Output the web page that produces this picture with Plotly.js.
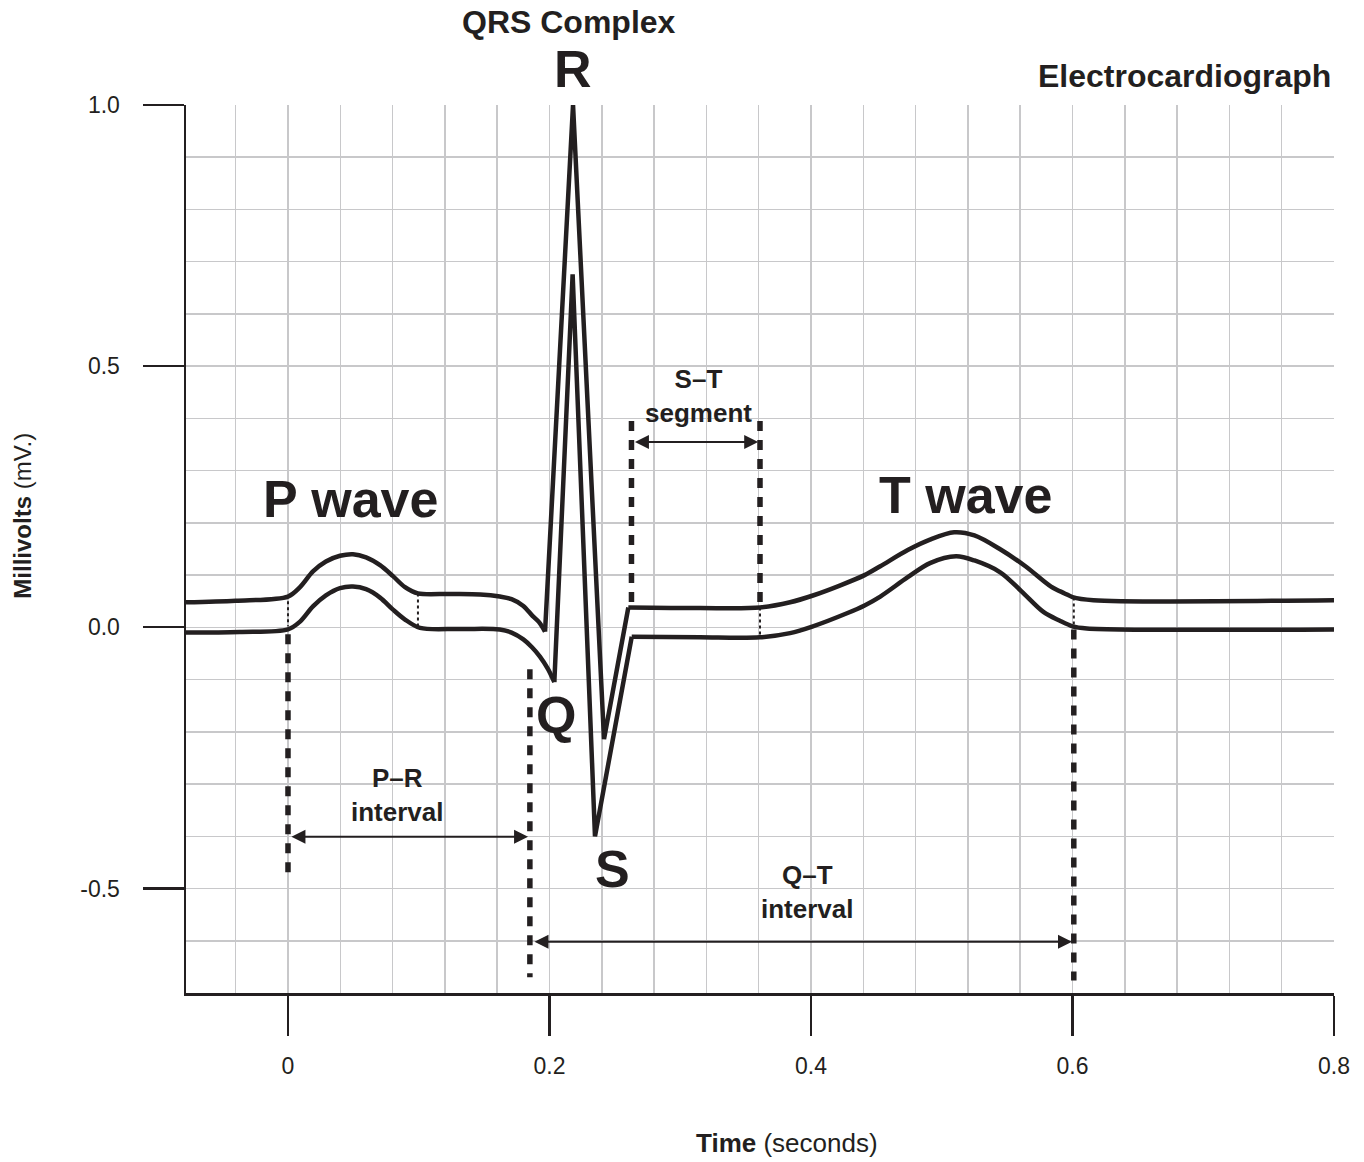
<!DOCTYPE html>
<html>
<head>
<meta charset="utf-8">
<script src="https://cdn.plot.ly/plotly-3.0.1.min.js"></script>
<style>html,body{margin:0;padding:0;background:#fff}</style>
</head>
<body>
<div id="chart" style="width:1364px;height:1162px"></div>
<script>
// ---- Data: upper ECG trace (time in s, voltage in mV)
const upperTime = [-0.078, -0.040, 0.000, 0.0092, 0.0191, 0.029, 0.0398, 0.0497, 0.0597, 0.0704, 0.0803, 0.0895, 0.0994,
  0.124, 0.147, 0.162, 0.171, 0.180, 0.187, 0.192, 0.1966,
  0.218, 0.2417, 0.2603,
  0.315, 0.361, 0.384, 0.4015, 0.422, 0.441, 0.453, 0.474, 0.491, 0.5095, 0.525, 0.545, 0.564, 0.5836, 0.594, 0.600, 0.616, 0.800];
const upperMv = [0.048, 0.051, 0.059, 0.077, 0.107, 0.126, 0.137, 0.140, 0.134, 0.119, 0.098, 0.077, 0.065,
  0.064, 0.063, 0.059, 0.054, 0.041, 0.022, 0.010, -0.008,
  1.000, -0.214, 0.038,
  0.037, 0.038, 0.048, 0.061, 0.080, 0.100, 0.117, 0.148, 0.168, 0.182, 0.176, 0.149, 0.117, 0.078, 0.065, 0.058, 0.052, 0.052];

// ---- Data: lower ECG trace
const lowerTime = [-0.078, -0.037, 0.000, 0.0092, 0.0191, 0.029, 0.0398, 0.0497, 0.0597, 0.0704, 0.0803, 0.0895, 0.101,
  0.1315, 0.162, 0.171, 0.180, 0.1866, 0.1927, 0.1989, 0.2037,
  0.2177, 0.2348, 0.2629,
  0.315, 0.361, 0.384, 0.4015, 0.4275, 0.441, 0.453, 0.474, 0.491, 0.511, 0.525, 0.545, 0.561, 0.578, 0.590, 0.600, 0.611, 0.800];
const lowerMv = [-0.010, -0.009, -0.004, 0.011, 0.040, 0.061, 0.075, 0.078, 0.073, 0.057, 0.034, 0.015, -0.001,
  -0.003, -0.004, -0.010, -0.023, -0.038, -0.056, -0.080, -0.105,
  0.676, -0.400, -0.018,
  -0.019, -0.019, -0.011, 0.002, 0.027, 0.042, 0.059, 0.096, 0.123, 0.136, 0.128, 0.105, 0.069, 0.029, 0.013, 0.002, -0.002, -0.004];

// index of the Q point and of the S-T corner in both traces (QRS drawn with straight strokes)
const qIndex = 20;
const stIndex = 23;

// ---- Axis ticks
const xTickVals = [0, 0.2, 0.4, 0.6, 0.8];
const xTickText = ['0', '0.2', '0.4', '0.6', '0.8'];
const yTickVals = [-0.5, 0, 0.5, 1.0];
const yTickText = ['-0.5', '0.0', '0.5', '1.0'];

// ---- Interval boundary markers (time, mV from, mV to)
const boldMarkTime = [0, 0.185, 0.2627, 0.361, 0.601];
const boldMarkFrom = [-0.013, -0.080, 0.395, 0.395, -0.004];
const boldMarkTo   = [-0.482, -0.670, 0.040, 0.038, -0.676];
const thinMarkTime = [0, 0.0994, 0.361, 0.601];
const thinMarkFrom = [0.050, 0.065, 0.038, 0.057];
const thinMarkTo   = [0.002, 0.000, -0.017, 0.000];

// ---- Intervals (arrows)
const intervalNames = ['P–R<br>interval', 'S–T<br>segment', 'Q–T<br>interval'];
const intervalStart = [0.0015, 0.2642, 0.1874];
const intervalEnd   = [0.1836, 0.3596, 0.5996];
const intervalLevel = [-0.401, 0.355, -0.602];

// ---- Wave labels
const waveNames = ['P wave', 'T wave', 'Q', 'S'];

const INK = '#231f20';
const GRID = '#c8c8ca';
const FONT = 'Liberation Sans, Arial, Helvetica, sans-serif';

function segs(t, a, b) {
  const x = [], y = [];
  for (let i = 0; i < t.length; i++) { x.push(t[i], t[i], null); y.push(a[i], b[i], null); }
  return {x, y};
}
const bold = segs(boldMarkTime, boldMarkFrom, boldMarkTo);
const thin = segs(thinMarkTime, thinMarkFrom, thinMarkTo);

function ecgPieces(t, v) {
  const line = (shape) => ({color: INK, width: 4.5, shape: shape, smoothing: 0.9});
  return [
    {x: t.slice(0, qIndex + 1), y: v.slice(0, qIndex + 1), mode: 'lines', line: line('spline'), hoverinfo: 'skip'},
    {x: t.slice(qIndex, stIndex + 1), y: v.slice(qIndex, stIndex + 1), mode: 'lines', line: line('linear'), hoverinfo: 'skip'},
    {x: t.slice(stIndex), y: v.slice(stIndex), mode: 'lines', line: line('spline'), hoverinfo: 'skip'}
  ];
}

const traces = [
  {x: thin.x, y: thin.y, mode: 'lines', line: {color: INK, width: 2, dash: '3px,3px'}, hoverinfo: 'skip', connectgaps: false},
  {x: bold.x, y: bold.y, mode: 'lines', line: {color: INK, width: 5.5, dash: '10px,9px'}, hoverinfo: 'skip', connectgaps: false}
].concat(ecgPieces(upperTime, upperMv), ecgPieces(lowerTime, lowerMv));

const intervalLabelPos = [[0.0841, -0.320], [0.3136, 0.442], [0.3977, -0.507]];
const waveLabelPos = [[0.048, 0.245], [0.5185, 0.253], [0.205, -0.168], [0.248, -0.463]];

const annotations = [];
for (let i = 0; i < intervalNames.length; i++) {
  annotations.push({
    x: intervalEnd[i], y: intervalLevel[i], ax: intervalStart[i], ay: intervalLevel[i],
    xref: 'x', yref: 'y', axref: 'x', ayref: 'y', text: '', showarrow: true,
    arrowhead: 2, startarrowhead: 2, arrowside: 'end+start', arrowsize: 1.4, startarrowsize: 1.4,
    arrowwidth: 2, arrowcolor: INK, standoff: 0, startstandoff: 0
  });
  annotations.push({
    x: intervalLabelPos[i][0], y: intervalLabelPos[i][1], xref: 'x', yref: 'y',
    text: '<b>' + intervalNames[i] + '</b>', showarrow: false,
    font: {family: FONT, size: 26, color: INK}, xanchor: 'center', yanchor: 'middle'
  });
}
for (let i = 0; i < waveNames.length; i++) {
  annotations.push({
    x: waveLabelPos[i][0], y: waveLabelPos[i][1], xref: 'x', yref: 'y',
    text: '<b>' + waveNames[i] + '</b>', showarrow: false,
    font: {family: FONT, size: 52, color: INK}, xanchor: 'center', yanchor: 'middle'
  });
}
// Labels outside the plotting area (paper coordinates)
annotations.push(
  {x: 0.337, y: 1.0405, xref: 'paper', yref: 'paper', text: '<b>R</b>', showarrow: false,
   font: {family: FONT, size: 52, color: INK}, xanchor: 'center', yanchor: 'middle'},
  {x: 0.3336, y: 1.0935, xref: 'paper', yref: 'paper', text: '<b>QRS Complex</b>', showarrow: false,
   font: {family: FONT, size: 32, color: INK}, xanchor: 'center', yanchor: 'middle'},
  {x: 0.9995, y: 1.0327, xref: 'paper', yref: 'paper', text: '<b>Electrocardiograph</b>', showarrow: false,
   font: {family: FONT, size: 32, color: INK}, xanchor: 'right', yanchor: 'middle'},
  {x: -0.1424, y: 0.537, xref: 'paper', yref: 'paper', text: '<b>Millivolts</b> (mV.)', showarrow: false,
   textangle: -90, font: {family: FONT, size: 24, color: INK}, xanchor: 'center', yanchor: 'middle'},
  {x: 0.5235, y: -0.169, xref: 'paper', yref: 'paper', text: '<b>Time</b> (seconds)', showarrow: false,
   font: {family: FONT, size: 26, color: INK}, xanchor: 'center', yanchor: 'middle'}
);

const axisCommon = {
  ticks: 'outside', tickwidth: 2.2, tickcolor: INK,
  showline: true, linewidth: 2.5, linecolor: INK,
  showgrid: true, gridcolor: GRID, gridwidth: 1.5, zeroline: false,
  tickfont: {family: FONT, size: 23, color: INK}, fixedrange: true
};

const layout = {
  width: 1364, height: 1162,
  margin: {l: 186, r: 30, t: 105, b: 169, pad: 0},
  paper_bgcolor: '#ffffff', plot_bgcolor: '#ffffff',
  showlegend: false,
  font: {family: FONT, color: INK},
  xaxis: Object.assign({}, axisCommon, {
    range: [-0.078, 0.8], tickmode: 'array', tickvals: xTickVals, ticktext: xTickText,
    ticklen: 40, ticklabelstandoff: 11,
    minor: {tickmode: 'linear', tick0: 0, dtick: 0.04, showgrid: true, gridcolor: GRID, gridwidth: 1.5, ticks: ''}
  }),
  yaxis: Object.assign({}, axisCommon, {
    range: [-0.7, 1.0], tickmode: 'array', tickvals: yTickVals, ticktext: yTickText,
    ticklen: 41, ticklabelstandoff: 18,
    minor: {tickmode: 'linear', tick0: 0, dtick: 0.1, showgrid: true, gridcolor: GRID, gridwidth: 1.5, ticks: ''}
  }),
  annotations: annotations
};

Plotly.newPlot('chart', traces, layout, {displayModeBar: false, staticPlot: true});
</script>
</body>
</html>
